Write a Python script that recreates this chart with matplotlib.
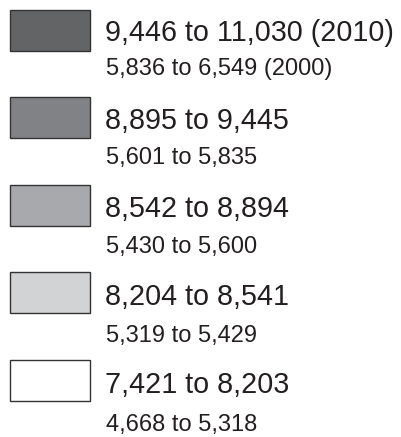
import matplotlib
matplotlib.use("Agg")
import matplotlib.pyplot as plt
from matplotlib.patches import Rectangle

plt.rcParams["font.family"] = ["Liberation Sans", "DejaVu Sans"]

ranges_2010 = ["9,446 to 11,030 (2010)", "8,895 to 9,445", "8,542 to 8,894",
               "8,204 to 8,541", "7,421 to 8,203"]
ranges_2000 = ["5,836 to 6,549 (2000)", "5,601 to 5,835", "5,430 to 5,600",
               "5,319 to 5,429", "4,668 to 5,318"]
colors = ["#636466", "#808285", "#a7a9ac", "#d1d3d4", "#ffffff"]

fig = plt.figure(figsize=(4.01, 4.37), dpi=100)
ax = fig.add_axes([0, 0, 1, 1])
ax.set_xlim(0, 401)
ax.set_ylim(437, 0)
ax.axis("off")

# pixel layout: boxes, big labels and small labels drift slightly apart
for i, (big, small, c) in enumerate(zip(ranges_2010, ranges_2000, colors)):
    ax.add_patch(Rectangle((10, 9.5 + i * 87.5), 80, 41, facecolor=c,
                           edgecolor="#333333", lw=1.0))
    ax.text(105, 41 + i * 88, big, fontsize=20.7, va="baseline", ha="left",
            color="#231f20")
    ax.text(106.5, 75 + i * 89, small, fontsize=17, va="baseline", ha="left",
            color="#231f20")

fig.savefig("out.png", dpi=100)
